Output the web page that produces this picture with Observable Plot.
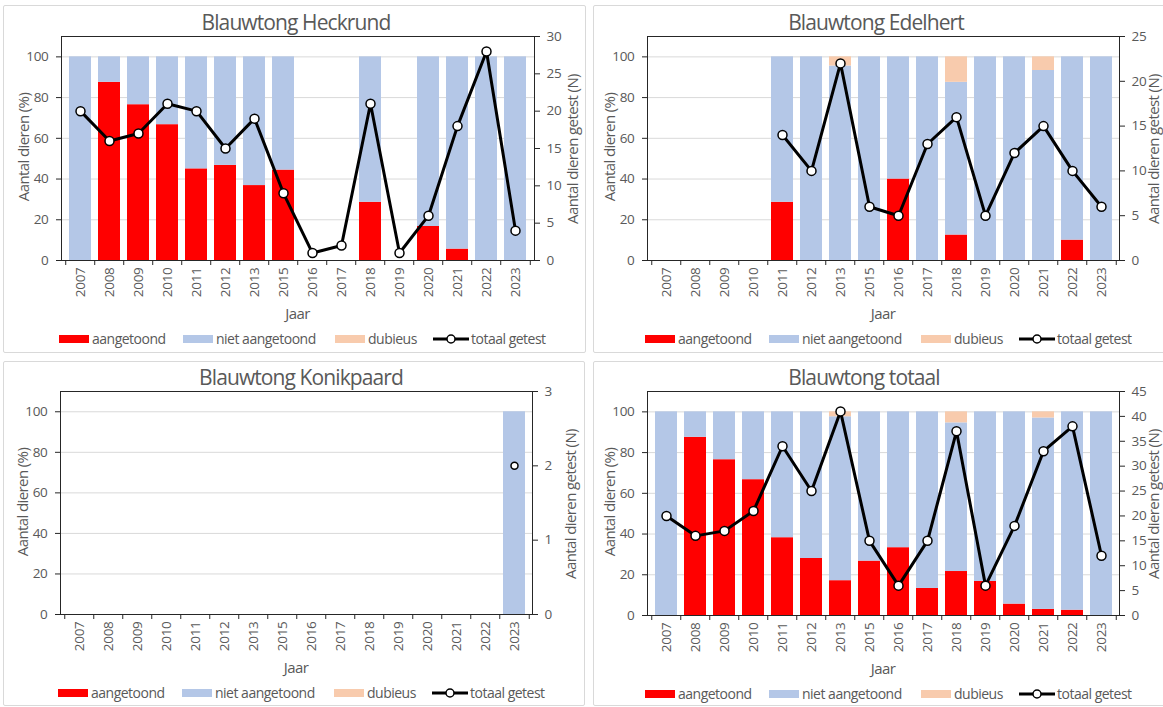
<!DOCTYPE html>
<html><head><meta charset="utf-8">
<script src="https://cdn.jsdelivr.net/npm/d3@7"></script>
<script src="https://cdn.jsdelivr.net/npm/@observablehq/plot@0.6"></script>
<style>
body{margin:0;background:#fff;font-family:"Open Sans",sans-serif;color:#595959}
#root{position:relative;width:1163px;height:707px;overflow:hidden;background:#fff}
.panel{position:absolute;border:1px solid #d9d9d9;box-sizing:border-box;border-radius:2px}
.layer{position:absolute}
.t{position:absolute;white-space:nowrap;transform:translate(-50%,-50%);line-height:1}
.title{font-size:21px;letter-spacing:-0.9px}
.lbl{font-size:15px;letter-spacing:-0.6px}
.rot{transform:translate(-50%,-50%) rotate(-90deg)}
.lg{position:absolute;font-size:14px;letter-spacing:-0.5px;white-space:nowrap;line-height:1;transform:translateY(-50%)}
.sw{position:absolute;width:30px;height:8px;transform:translateY(-50%)}
svg text{letter-spacing:-0.3px}
</style>
</head><body><div id="root"></div>
<script>
const years = ["2007","2008","2009","2010","2011","2012","2013","2015","2016","2017","2018","2019","2020","2021","2022","2023"];
const categories = ["aangetoond","niet aangetoond","dubieus"];
const lineLabel = "totaal getest";
const colors = ["#ff0000","#b4c7e7","#f8cbad"];
const pctTicks = [0,20,40,60,80,100];

// Heckrund
const heckrundAangetoond = [0,87.5,76.5,66.7,45,46.7,36.8,44.4,null,null,28.6,null,16.7,5.6,0,0];
const heckrundNiet       = [100,12.5,23.5,33.3,55,53.3,63.2,55.6,null,null,71.4,null,83.3,94.4,100,100];
const heckrundDubieus    = [0,0,0,0,0,0,0,0,null,null,0,null,0,0,0,0];
const heckrundN          = [20,16,17,21,20,15,19,9,1,2,21,1,6,18,28,4];

// Edelhert
const edelhertAangetoond = [null,null,null,null,28.6,0,0,0,40,0,12.5,0,0,0,10,0];
const edelhertNiet       = [null,null,null,null,71.4,100,95.5,100,60,100,75,100,100,93.3,90,100];
const edelhertDubieus    = [null,null,null,null,0,0,4.5,0,0,0,12.5,0,0,6.7,0,0];
const edelhertN          = [null,null,null,null,14,10,22,6,5,13,16,5,12,15,10,6];

// Konikpaard
const konikAangetoond = [null,null,null,null,null,null,null,null,null,null,null,null,null,null,null,0];
const konikNiet       = [null,null,null,null,null,null,null,null,null,null,null,null,null,null,null,100];
const konikDubieus    = [null,null,null,null,null,null,null,null,null,null,null,null,null,null,null,0];
const konikN          = [null,null,null,null,null,null,null,null,null,null,null,null,null,null,null,2];

// Totaal
const totaalAangetoond = [0,87.5,76.5,66.7,38.2,28,17.1,26.7,33.3,13.3,21.6,16.7,5.6,3,2.6,0];
const totaalNiet       = [100,12.5,23.5,33.3,61.8,72,80.5,73.3,66.7,86.7,73,83.3,94.4,94,97.4,100];
const totaalDubieus    = [0,0,0,0,0,0,2.4,0,0,0,5.4,0,0,3,0,0];
const totaalN          = [20,16,17,21,34,25,41,15,6,15,37,6,18,33,38,12];

const panels = [
  {title:"Blauwtong Heckrund", ox:0, oy:0, w:590, h:355, left:61, right:534, top:36, bottom:260,
   border:[3,5,583,348], titleX:296, aang:heckrundAangetoond, niet:heckrundNiet, dub:heckrundDubieus, N:heckrundN,
   nTicks:[0,5,10,15,20,25,30], r:4.5},
  {title:"Blauwtong Edelhert", ox:586, oy:0, w:577, h:355, left:61, right:533, top:36, bottom:260,
   border:[593,5,600,348], titleX:876, aang:edelhertAangetoond, niet:edelhertNiet, dub:edelhertDubieus, N:edelhertN,
   nTicks:[0,5,10,15,20,25], r:4.5},
  {title:"Blauwtong Konikpaard", ox:0, oy:355, w:590, h:352, left:60, right:532, top:36, bottom:259,
   border:[3,361,582,345], titleX:301, aang:konikAangetoond, niet:konikNiet, dub:konikDubieus, N:konikN,
   nTicks:[0,1,2,3], r:3.5},
  {title:"Blauwtong totaal", ox:586, oy:355, w:577, h:352, left:61, right:533, top:36, bottom:260,
   border:[593,361,600,345], titleX:864, aang:totaalAangetoond, niet:totaalNiet, dub:totaalDubieus, N:totaalN,
   nTicks:[0,5,10,15,20,25,30,35,40,45], r:4.5}
];

const root = document.getElementById("root");
function add(html){ root.insertAdjacentHTML("beforeend", html); }

for (const p of panels) {
  const [bx,by,bw,bh] = p.border;
  add(`<div class="panel" style="left:${bx}px;top:${by}px;width:${bw}px;height:${bh}px"></div>`);

  const rows = [];
  years.forEach((y,i) => {
    [[categories[0],p.aang[i]],[categories[1],p.niet[i]],[categories[2],p.dub[i]]].forEach(([c,v]) => {
      if (v != null && v > 0) rows.push({year:y, cat:c, value:v});
    });
  });
  const pts = years.map((y,i) => ({year:y, n:p.N[i]})).filter(d => d.n != null);

  const step = (p.right - p.left) / years.length;
  const common = {
    width:p.w, height:p.h, marginLeft:p.left, marginRight:p.w - p.right, marginTop:p.top, marginBottom:p.h - p.bottom,
    style:{fontFamily:"'Open Sans', sans-serif", fontSize:"13.5px", color:"#595959", background:"transparent", overflow:"visible"}
  };
  const xScale = {type:"band", domain:years, paddingInner:0.25, paddingOuter:0.125, label:null};

  const bars = Plot.plot({
    ...common,
    x: xScale,
    y: {domain:[0,110], label:null},
    color: {domain:categories, range:colors},
    marks: [
      Plot.gridY(pctTicks.filter(t => t > 0), {stroke:"#d9d9d9", strokeOpacity:1}),
      Plot.barY(rows, {x:"year", y:"value", fill:"cat"}),
      Plot.ruleX(years, {x:d => d, y1:0, y2:0, insetBottom:-5, dx:-step/2, stroke:"#262626"}),
      Plot.ruleX(years.slice(-1), {x:d => d, y1:0, y2:0, insetBottom:-5, dx:step/2, stroke:"#262626"}),
      Plot.axisY({ticks:pctTicks, tickSize:5, tickPadding:8, stroke:"#262626", fill:"#595959", fontSize:13.5, label:null}),
      Plot.axisX({tickSize:0, tickPadding:7, tickRotate:-90, fill:"#595959", fontSize:13.5, label:null}),
      Plot.frame({stroke:"#262626"})
    ]
  });
  bars.classList.add("layer");
  bars.style.left = p.ox + "px"; bars.style.top = p.oy + "px";
  root.appendChild(bars);

  const nMax = p.nTicks[p.nTicks.length - 1];
  const lines = Plot.plot({
    ...common,
    x: {...xScale, axis:null},
    y: {domain:[0,nMax], label:null},
    marks: [
      Plot.line(pts, {x:"year", y:"n", stroke:"#000", strokeWidth:3}),
      Plot.dot(pts, {x:"year", y:"n", r:p.r, fill:"#fff", stroke:"#000", strokeWidth:1.5}),
      Plot.axisY({anchor:"right", ticks:p.nTicks, tickFormat:"d", tickSize:5, tickPadding:7, stroke:"#262626", fill:"#595959", fontSize:13.5, label:null})
    ]
  });
  lines.classList.add("layer");
  lines.style.left = p.ox + "px"; lines.style.top = p.oy + "px";
  root.appendChild(lines);

  const L = p.ox + p.left, R = p.ox + p.right, T = p.oy + p.top, B = p.oy + p.bottom;
  const cx = (L + R) / 2, cy = (T + B) / 2 - 1;
  add(`<div class="t title" style="left:${p.titleX}px;top:${p.oy + 22}px">${p.title}</div>`);
  add(`<div class="t lbl rot" style="left:${L - 38}px;top:${cy}px">Aantal dieren (%)</div>`);
  add(`<div class="t lbl rot" style="left:${Math.min(R + 38, 1153)}px;top:${cy + 2}px">Aantal dieren getest (N)</div>`);
  add(`<div class="t lbl" style="left:${cx}px;top:${B + 53}px">Jaar</div>`);

  const ly = B + 79;
  const sw = [-2, 122, 274];
  categories.forEach((c,i) => {
    add(`<div class="sw" style="left:${L + sw[i]}px;top:${ly}px;background:${colors[i]}"></div>`);
    add(`<div class="lg" style="left:${L + sw[i] + 33}px;top:${ly}px">${c}</div>`);
  });
  add(`<svg class="layer" style="left:${L + 372}px;top:${ly - 6}px" width="36" height="12"><line x1="0" x2="36" y1="6" y2="6" stroke="#000" stroke-width="3"/><circle cx="18" cy="6" r="4" fill="#fff" stroke="#000" stroke-width="1.5"/></svg>`);
  add(`<div class="lg" style="left:${L + 410}px;top:${ly}px">${lineLabel}</div>`);
}
</script>
</body></html>
